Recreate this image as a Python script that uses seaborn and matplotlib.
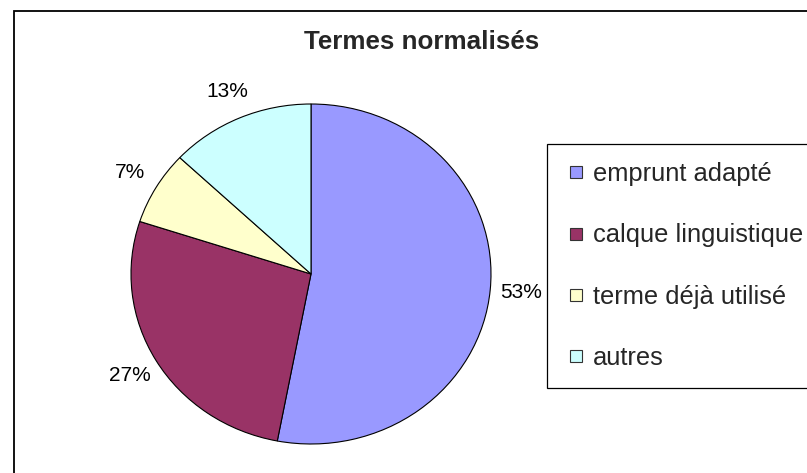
import matplotlib
matplotlib.use('Agg')
import matplotlib.pyplot as plt
import seaborn as sns
from matplotlib.patches import Rectangle
from matplotlib.lines import Line2D

# Données du graphique
categories = ['emprunt adapté', 'calque linguistique', 'terme déjà utilisé', 'autres']
valeurs = [53, 27, 7, 13]
couleurs = ['#9999FF', '#993366', '#FFFFCC', '#CCFFFF']
titre = 'Termes normalisés'

sns.set_style('white')
plt.rcParams['font.family'] = ['Liberation Sans', 'DejaVu Sans']

fig = plt.figure(figsize=(8.07, 4.73), dpi=100)
fig.patch.set_facecolor('white')

# Cadre extérieur du graphique (style Excel)
fig.patches.append(Rectangle((14 / 807, -0.2), 1.2, 1.2 - 11 / 473,
                             transform=fig.transFigure, fill=False,
                             edgecolor='black', linewidth=1.3, zorder=0))

# Axe du camembert (légèrement elliptique comme l'original)
ax = fig.add_axes([131 / 807, 29 / 473, 360 / 807, 340 / 473])
wedges, textes, pcts = ax.pie(valeurs, colors=couleurs, startangle=90, counterclock=False,
                              autopct='%1.0f%%', pctdistance=1.17,
                              wedgeprops={'edgecolor': 'black', 'linewidth': 0.8})
ax.set_aspect('auto')
ax.set_xlim(-1, 1)
ax.set_ylim(-1, 1)
for t in pcts:
    t.set_fontsize(15)
    t.set_color('black')
for w in wedges:
    w.set_clip_on(False)

# Titre
fig.text(422 / 807, 1 - 42 / 473, titre, ha='center', va='center',
         fontsize=18.7, fontweight='bold')

# Légende avec petits carrés
poignees = [Line2D([], [], linestyle='none', marker='s', markersize=8.4,
                   markerfacecolor=c, markeredgecolor='#333333', markeredgewidth=0.8)
            for c in couleurs]
leg = fig.legend(poignees, categories, loc='upper left',
                 bbox_to_anchor=(547 / 807, 1 - 144 / 473), bbox_transform=fig.transFigure,
                 fontsize=18.4, frameon=True, fancybox=False, edgecolor='black',
                 framealpha=1, borderaxespad=0, borderpad=0.72,
                 handlelength=0.83, handletextpad=0.25, labelspacing=1.45)
leg.get_frame().set_linewidth(0.9)

fig.savefig('out.png', dpi=100)
